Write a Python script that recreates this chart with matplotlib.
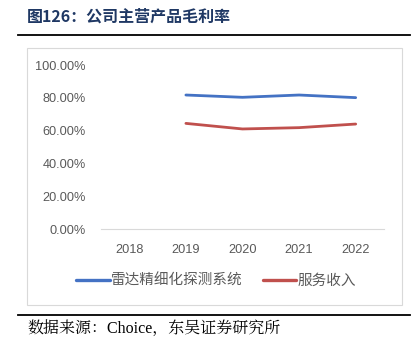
import matplotlib.pyplot as plt
from matplotlib.patches import Rectangle
from matplotlib.lines import Line2D
from matplotlib.ticker import FuncFormatter

years = ['2018', '2019', '2020', '2021', '2022']
radar = [None, 0.817, 0.803, 0.817, 0.801]   # 雷达精细化探测系统
service = [None, 0.644, 0.610, 0.618, 0.640]  # 服务收入

plt.rcParams['font.family'] = ['Liberation Sans', 'Noto Sans CJK SC']

fig = plt.figure(figsize=(4.19, 3.46), dpi=100)

# title and rules
fig.text(27/419, 1-17/346, '图126：公司主营产品毛利率', fontsize=11.5, fontweight='bold',
         color='#1F3864', va='center', ha='left', family=['Noto Sans CJK SC'])
fig.add_artist(Line2D([18/419, 410/419], [1-35/346, 1-35/346], color='black', lw=1.3))
fig.add_artist(Line2D([18/419, 410/419], [1-315/346, 1-315/346], color='black', lw=1.3))
fig.text(27/419, 1-328/346, '数据来源：Choice，东吴证券研究所', fontsize=11.5, color='black',
         va='center', ha='left', family=['Liberation Serif', 'Noto Serif CJK SC', 'Noto Sans CJK SC'])

# chart frame
fig.add_artist(Rectangle((27/419, 1-305/346), (402-27)/419, (305-48)/346, transform=fig.transFigure,
                         fill=False, edgecolor='#D9D9D9', lw=0.8))

ax = fig.add_axes([101/419, 1-229/346, (384-101)/419, (229-65)/346])
x = list(range(len(years)))
xr = [i for i, v in zip(x, radar) if v is not None]
ax.plot(xr, [v for v in radar if v is not None], color='#4472C4', lw=2.0,
        solid_capstyle='round', label='雷达精细化探测系统')
xs = [i for i, v in zip(x, service) if v is not None]
ax.plot(xs, [v for v in service if v is not None], color='#C0504D', lw=2.0,
        solid_capstyle='round', label='服务收入')

ax.set_xlim(-0.5, 4.5)
ax.set_ylim(0, 1)
ax.set_yticks([0, 0.2, 0.4, 0.6, 0.8, 1.0])
ax.yaxis.set_major_formatter(FuncFormatter(lambda v, p: '%.2f%%' % (v*100)))
ax.set_xticks(x)
ax.set_xticklabels(years)
for s in ['top', 'right', 'left']:
    ax.spines[s].set_visible(False)
ax.spines['bottom'].set_color('#D9D9D9')
ax.tick_params(length=0, labelsize=9.2, colors='#595959')
ax.tick_params(axis='y', pad=11)
ax.tick_params(axis='x', pad=11)

leg = fig.legend(loc='center', bbox_to_anchor=(216/419, 1-281/346), ncol=2, frameon=False,
                 handlelength=2.3, handletextpad=0.05, columnspacing=1.4,
                 prop={'family': ['Noto Sans CJK SC'], 'size': 10.5})
for t in leg.get_texts():
    t.set_color('#595959')
for h in leg.legend_handles:
    h.set_linewidth(2.4)

fig.savefig('out.png', dpi=100)
